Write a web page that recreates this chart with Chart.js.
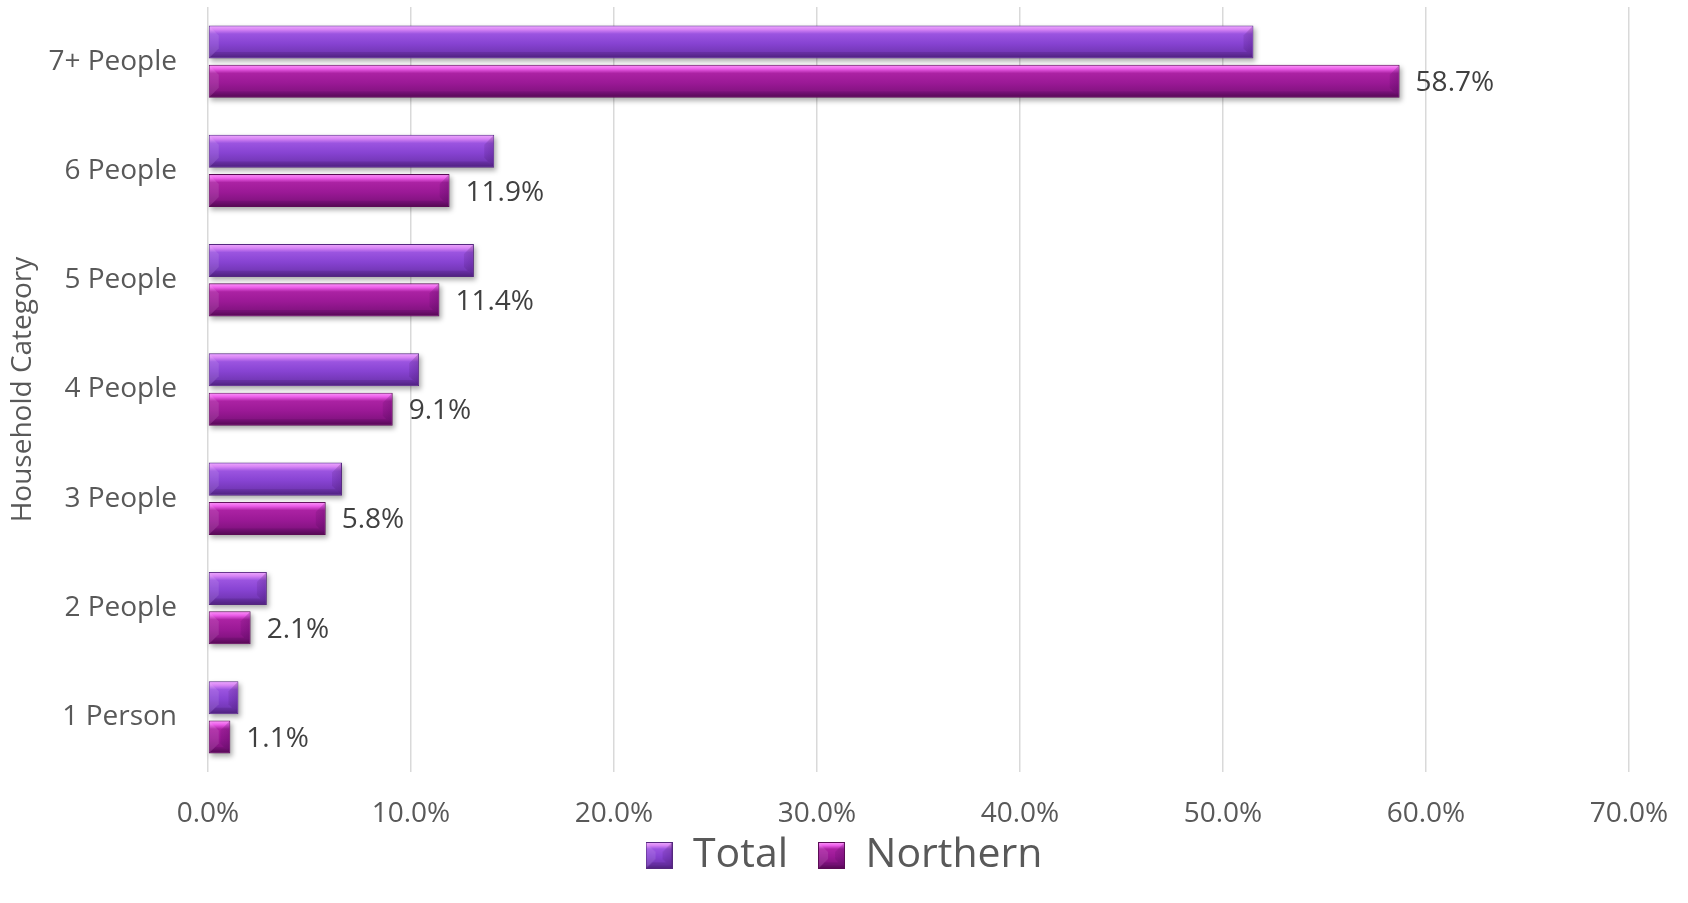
<!DOCTYPE html>
<html>
<head>
<meta charset="utf-8">
<script src="https://cdn.jsdelivr.net/npm/chart.js@4.4.0/dist/chart.umd.min.js"></script>
<style>
html, body { margin: 0; padding: 0; background: #fff; }
#wrap { width: 1688px; height: 903px; }
</style>
</head>
<body>
<div id="wrap"><canvas id="households"></canvas></div>
<script>
var categories = ['7+ People', '6 People', '5 People', '4 People', '3 People', '2 People', '1 Person'];
var seriesNames = ['Total', 'Northern'];
var totalShare = [51.5, 14.1, 13.1, 10.4, 6.6, 2.9, 1.5];
var northernShare = [58.7, 11.9, 11.4, 9.1, 5.8, 2.1, 1.1];
var xMin = 0, xMax = 70, xStep = 10;

var FONT = '"Open Sans", "DejaVu Sans", sans-serif';
var TEXT = '#595959';

// bevelled "button" look for each series
var palette = [
  { edge: '#55287e', mid: '#8a45d6',
    stops: [[0, '#eaa2fb'], [0.1, '#d784f5'], [0.24, '#9b54e0'], [0.55, '#8743d2'], [0.86, '#7236b4'], [1, '#5a2890']] },
  { edge: '#5a0c55', mid: '#9c1897',
    stops: [[0, '#f98ef7'], [0.1, '#ec5de9'], [0.24, '#ab22a3'], [0.55, '#9b1996'], [0.86, '#821380'], [1, '#630b5f']] }
];

function paintBevel(ctx, x0, y0, x1, y1, pal) {
  var w = x1 - x0, h = y1 - y0;
  if (w <= 0 || h <= 0) return;
  var d = Math.min(9, w / 2, h / 2);
  var g = ctx.createLinearGradient(0, y0, 0, y1);
  pal.stops.forEach(function (s) { g.addColorStop(s[0], s[1]); });
  ctx.fillStyle = g;
  ctx.fillRect(x0, y0, w, h);

  // right side facet
  var gr = ctx.createLinearGradient(x1 - d, 0, x1, 0);
  gr.addColorStop(0, 'rgba(40,0,60,0.10)');
  gr.addColorStop(1, 'rgba(40,0,60,0.22)');
  ctx.fillStyle = gr;
  ctx.beginPath();
  ctx.moveTo(x1, y0); ctx.lineTo(x1, y1);
  ctx.lineTo(x1 - d, y1 - d); ctx.lineTo(x1 - d, y0 + d);
  ctx.closePath(); ctx.fill();

  // left side facet
  ctx.fillStyle = 'rgba(255,255,255,0.10)';
  ctx.beginPath();
  ctx.moveTo(x0, y0); ctx.lineTo(x0, y1);
  ctx.lineTo(x0 + d, y1 - d); ctx.lineTo(x0 + d, y0 + d);
  ctx.closePath(); ctx.fill();

  // bottom facet
  ctx.fillStyle = 'rgba(30,0,40,0.14)';
  ctx.beginPath();
  ctx.moveTo(x0, y1); ctx.lineTo(x1, y1);
  ctx.lineTo(x1 - d * 0.6, y1 - d * 0.6); ctx.lineTo(x0 + d * 0.6, y1 - d * 0.6);
  ctx.closePath(); ctx.fill();
}

var bevelBars = {
  id: 'bevelBars',
  beforeDatasetDraw: function (chart, args) {
    var ctx = chart.ctx;
    ctx.save();
    ctx.filter = 'blur(2.5px)';
    ctx.fillStyle = 'rgba(0,0,0,0.32)';
    args.meta.data.forEach(function (bar) {
      var p = bar.getProps(['x', 'y', 'base', 'height'], true);
      ctx.fillRect(p.base + 2, p.y - p.height / 2 + 3, p.x - p.base, p.height);
    });
    ctx.restore();
  },
  afterDatasetDraw: function (chart, args) {
    var ctx = chart.ctx;
    var pal = palette[args.index];
    ctx.save();
    args.meta.data.forEach(function (bar) {
      var p = bar.getProps(['x', 'y', 'base', 'height'], true);
      paintBevel(ctx, p.base + 1, p.y - p.height / 2 + 1, p.x - 1, p.y + p.height / 2 - 1, pal);
    });
    ctx.restore();
  }
};

// value labels at the end of the Northern bars
var endLabels = {
  id: 'endLabels',
  afterDatasetsDraw: function (chart) {
    var ctx = chart.ctx;
    var meta = chart.getDatasetMeta(1);
    ctx.save();
    ctx.font = '28px ' + FONT;
    ctx.fillStyle = '#404040';
    ctx.textAlign = 'left';
    ctx.textBaseline = 'middle';
    meta.data.forEach(function (bar, i) {
      var v = chart.data.datasets[1].data[i];
      ctx.fillText(v.toFixed(1) + '%', bar.x + 16, bar.y + 2);
    });
    ctx.restore();
  }
};

// pull the legend row up closer to the axis labels
var legendLift = {
  id: 'legendLift',
  afterLayout: function (chart) {
    var lg = chart.legend;
    if (!lg) return;
    lg.top -= 26;
    lg.bottom -= 26;
  }
};

function legendIcon(pal) {
  var c = document.createElement('canvas');
  c.width = 27; c.height = 27;
  var ctx = c.getContext('2d');
  ctx.fillStyle = pal.edge;
  ctx.fillRect(0, 0, 27, 27);
  paintBevel(ctx, 1, 1, 26, 26, pal);
  return c;
}
var icons = [legendIcon(palette[0]), legendIcon(palette[1])];

var ctx = document.getElementById('households').getContext('2d');
var chart = new Chart(ctx, {
  type: 'bar',
  data: {
    labels: categories,
    datasets: [{
      label: seriesNames[0],
      data: totalShare,
      backgroundColor: palette[0].mid,
      borderColor: palette[0].edge,
      borderWidth: 1,
      borderSkipped: false,
      categoryPercentage: 0.72,
      barPercentage: 0.84
    }, {
      label: seriesNames[1],
      data: northernShare,
      backgroundColor: palette[1].mid,
      borderColor: palette[1].edge,
      borderWidth: 1,
      borderSkipped: false,
      categoryPercentage: 0.72,
      barPercentage: 0.84
    }]
  },
  plugins: [bevelBars, endLabels, legendLift],
  options: {
    indexAxis: 'y',
    responsive: true,
    maintainAspectRatio: false,
    animation: false,
    layout: { padding: { top: 7, right: 0, left: 0, bottom: -9 } },
    scales: {
      x: {
        min: xMin,
        max: xMax,
        afterFit: function (scale) {
          scale.height = 59;
          scale.paddingLeft = 0;
          scale.paddingRight = 59;
        },
        ticks: {
          stepSize: xStep,
          padding: 25,
          color: TEXT,
          font: { family: FONT, size: 28 },
          callback: function (v) { return v.toFixed(1) + '%'; }
        },
        grid: { color: '#d9d9d9', lineWidth: 1.5, drawTicks: false },
        border: { display: false }
      },
      y: {
        afterFit: function (scale) {
          scale.width = 208;
          scale.paddingTop = 0;
          scale.paddingBottom = 0;
        },
        ticks: {
          padding: 31,
          color: TEXT,
          font: { family: FONT, size: 28 }
        },
        grid: { display: false, drawTicks: false },
        border: { display: false },
        title: {
          display: true,
          text: 'Household Category',
          color: TEXT,
          padding: { top: 6, bottom: 0 },
          font: { family: FONT, size: 28 }
        }
      }
    },
    plugins: {
      legend: {
        position: 'bottom',
        labels: {
          usePointStyle: true,
          boxWidth: 27,
          boxHeight: 27,
          padding: 30,
          color: TEXT,
          font: { family: FONT, size: 41 },
          generateLabels: function (c) {
            var items = Chart.defaults.plugins.legend.labels.generateLabels(c);
            items.forEach(function (it) { it.pointStyle = icons[it.datasetIndex]; });
            return items;
          }
        }
      },
      tooltip: { enabled: false }
    }
  }
});
</script>
</body>
</html>
